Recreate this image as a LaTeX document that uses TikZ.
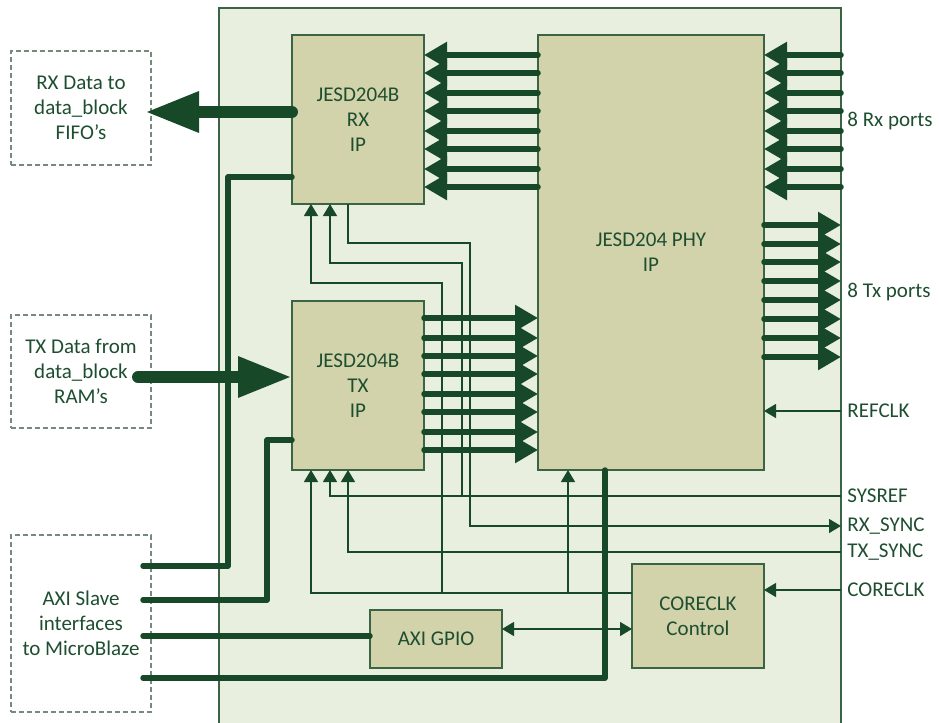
\documentclass[tikz,border=0pt]{standalone}
\usepackage{fontspec}
\setmainfont{Carlito}
\usetikzlibrary{arrows.meta,positioning,calc}
\definecolor{jgreen}{RGB}{23,72,40}
\definecolor{jtext}{RGB}{30,78,48}
\definecolor{jfill}{RGB}{210,211,171}
\definecolor{jback}{RGB}{233,239,222}
\definecolor{jedge}{RGB}{58,100,68}
\definecolor{jdash}{RGB}{118,138,124}

\begin{document}
\begin{tikzpicture}[x=0.5pt,y=-0.5pt,>={Triangle[length=6pt,width=7pt]},
  every node/.style={font=\fontsize{10.5}{12.5}\selectfont,text=jtext},
  fpga/.style={draw=jedge,line width=0.6pt,fill=jback,inner sep=0pt,outer sep=0pt},
  ip/.style={draw=jedge,line width=0.7pt,fill=jfill,align=center,inner sep=0pt,outer sep=0pt,minimum width=66pt},
  dbox/.style={draw=jdash,dash pattern=on 2.5pt off 1.5pt,line width=0.6pt,align=center,inner sep=0pt,outer sep=0pt,minimum width=70pt},
  lab/.style={anchor=west,inner sep=3pt},
  lane/.style={jgreen,line width=2.75pt,line cap=round,-{Triangle[length=11.5pt,width=12.5pt]}},
  bus/.style={jgreen,line width=2.7pt,line cap=round,line join=round},
  big/.style={jgreen,line width=6pt,line cap=round,-{Triangle[length=27pt,width=19pt]}},
  sig/.style={jgreen,line width=0.6pt,->}]
\useasboundingbox (0,0) rectangle (939,723);
\node[fpga,minimum width=311pt,minimum height=370pt] (fpga) at (530,378) {};
\node[ip,minimum height=84.5pt] (rx) at (358,119.5) {JESD204B\\RX\\IP};
\node[ip,minimum height=84.5pt] (tx) at (358,385.5) {JESD204B\\TX\\IP};
\node[ip,minimum width=113pt,minimum height=217.5pt] (phy) at (651,252.5) {JESD204 PHY\\IP};
\node[ip,minimum height=29pt] (gpio) at (436,639) {AXI GPIO};
\node[ip,minimum height=52pt] (cclk) at (698,616) {CORECLK\\Control};
\node[dbox,minimum height=57pt] (rxd) at (81,108) {RX Data to\\data\_block\\FIFO’s};
\node[dbox,minimum height=56.5pt] (txd) at (81,371.5) {TX Data from\\data\_block\\RAM’s};
\node[dbox,minimum height=88.5pt] (axi) at (81,623.5) {AXI Slave\\interfaces\\to MicroBlaze};
\node[lab] (rxp) at (841,121) {8 Rx ports};
\node[lab] (txp) at (841,292) {8 Tx ports};
\node[lab] (refclk) at (841,411) {REFCLK};
\node[lab] (sysref) at (841,496) {SYSREF};
\node[lab] (rxsync) at (841,526) {RX\_SYNC};
\node[lab] (txsync) at (841,552) {TX\_SYNC};
\node[lab] (cclkin) at (841,590) {CORECLK};
\foreach \y in {55,73,93,111,131,149,169,187}{
  \draw[lane] (phy.west |- 0,\y) -- (rx.east |- 0,\y);
  \draw[lane] (fpga.east |- 0,\y) -- (phy.east |- 0,\y);}
\foreach \y in {318,338,356,374,394,412,432,450}
  \draw[lane] (tx.east |- 0,\y) -- (phy.west |- 0,\y);
\foreach \y in {225,244,262,281,300,319,338,357}
  \draw[lane] (phy.east |- 0,\y) -- (fpga.east |- 0,\y);
\draw[sig] (refclk.west) -- (refclk.west -| phy.east);
\draw[sig] (cclkin.west) -- (cclkin.west -| cclk.east);
\draw[sig] (cclk.west |- 0,593) -| (tx.south -| 311,0);
\draw[sig] (568,593) -- (phy.south -| 568,0);
\draw[sig] (442,593) |- (311,283) -- (rx.south -| 311,0);
\draw[sig] (sysref.west) -| (tx.south -| 330,0);
\draw[sig] (462,496) |- (330,263) -- (rx.south -| 330,0);
\draw[sig] (rx.south -| 348,0) |- (470,243) |- (rxsync.west);
\draw[sig] (txsync.west) -| (tx.south -| 348,0);
\draw[sig,<->] (gpio.east |- 0,629) -- (cclk.west |- 0,629);
\draw[big,shorten >=-3pt] (rx.west |- 0,112) -- (rxd.east |- 0,112);
\draw[big,shorten <=-6.5pt] (txd.east |- 0,377) -- (tx.west |- 0,377);
\draw[bus,shorten <=-4pt] (axi.east |- 0,566) -| (228,177) -- (rx.west |- 0,177);
\draw[bus,shorten <=-4pt] (axi.east |- 0,600) -| (267,440) -- (tx.west |- 0,440);
\draw[bus,shorten <=-4pt] (axi.east |- 0,636) -- (gpio.west |- 0,636);
\draw[bus,shorten <=-4pt] (axi.east |- 0,678) -| (phy.south -| 605,0);
\end{tikzpicture}
\end{document}
